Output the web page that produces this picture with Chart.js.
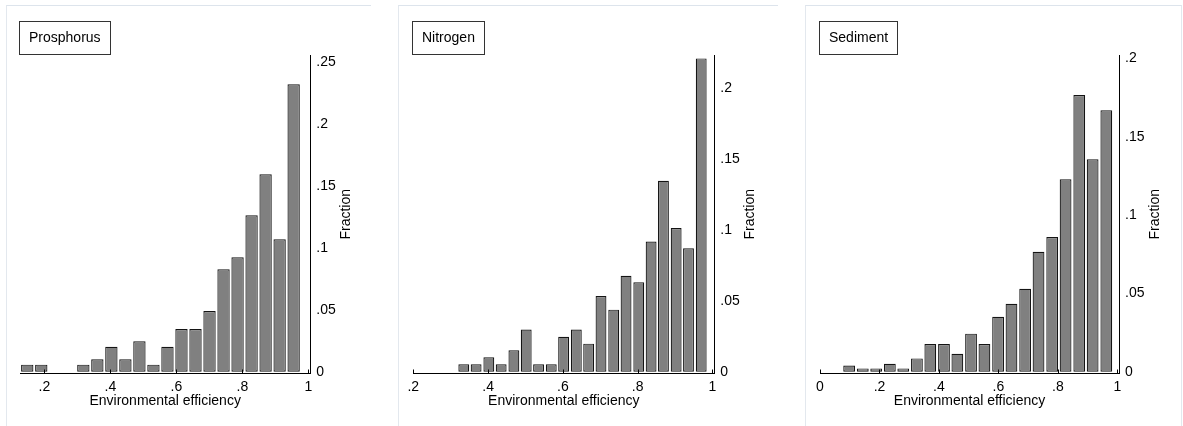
<!DOCTYPE html>
<html>
<head>
<meta charset="utf-8">
<script src="https://cdn.jsdelivr.net/npm/chart.js@4/dist/chart.umd.min.js"></script>
<style>
  html, body { margin: 0; padding: 0; background: #fff; }
  body { width: 1183px; height: 426px; position: relative; overflow: hidden; }
  .panel { position: absolute; top: 5px; height: 430px; border-top: 1px solid #dde4ec; border-left: 1px solid #e3e8ee; }
  canvas { position: absolute; top: 0; }
</style>
</head>
<body>
<div class="panel" style="left:6px;width:364px"></div>
<div class="panel" style="left:398px;width:379px"></div>
<div class="panel" style="left:805px;width:375px;border-right:1px solid #e3e8ee"></div>
<canvas id="phos" width="364" height="426" style="left:6px"></canvas>
<canvas id="nitro" width="379" height="426" style="left:398px"></canvas>
<canvas id="sed" width="376" height="426" style="left:805px"></canvas>
<script>
var phosBins = [0.148, 0.1905, 0.233, 0.2755, 0.318, 0.3605, 0.403, 0.4455, 0.488, 0.5305,
                0.573, 0.6155, 0.658, 0.7005, 0.743, 0.7855, 0.828, 0.8705, 0.913, 0.9555];
var phosFrac = [0.0057, 0.0057, null, null, 0.0057, 0.0101, 0.0202, 0.0101, 0.0245, 0.0057,
                0.0202, 0.0345, 0.0345, 0.0490, 0.0827, 0.0924, 0.1263, 0.1594, 0.1070, 0.2321];

var nitroBins = [0.335, 0.368, 0.402, 0.435, 0.469, 0.502, 0.535, 0.569, 0.602, 0.636,
                 0.669, 0.702, 0.736, 0.769, 0.803, 0.836, 0.869, 0.903, 0.936, 0.970];
var nitroFrac = [0.0052, 0.0052, 0.0101, 0.0052, 0.0151, 0.0297, 0.0052, 0.0052, 0.0247, 0.0297,
                 0.0198, 0.0534, 0.0438, 0.0678, 0.0631, 0.0920, 0.1349, 0.1015, 0.0871, 0.2213];

var sedBins = [0.098, 0.144, 0.189, 0.235, 0.280, 0.326, 0.371, 0.417, 0.462, 0.508,
               0.553, 0.599, 0.644, 0.690, 0.735, 0.781, 0.826, 0.872, 0.917, 0.963];
var sedFrac = [0.0040, 0.0021, 0.0021, 0.0051, 0.0021, 0.0085, 0.0177, 0.0177, 0.0115, 0.0243,
               0.0177, 0.0351, 0.0434, 0.0530, 0.0766, 0.0860, 0.1229, 0.1766, 0.1356, 0.1669];

var phosXTicks = [0.2, 0.4, 0.6, 0.8, 1];
var nitroXTicks = [0.2, 0.4, 0.6, 0.8, 1];
var sedXTicks = [0, 0.2, 0.4, 0.6, 0.8, 1];
var phosYTicks = [0, 0.05, 0.1, 0.15, 0.2, 0.25];
var nitroYTicks = [0, 0.05, 0.1, 0.15, 0.2];
var sedYTicks = [0, 0.05, 0.1, 0.15, 0.2];

var FONT = '"Liberation Sans", Arial, sans-serif';
Chart.defaults.font.family = FONT;
Chart.defaults.font.size = 14;
Chart.defaults.color = '#000';

// stata style labels: .2 instead of 0.2
function stataNum(v) {
    if (v === 0) return '0';
    return String(+v.toFixed(2)).replace(/^0\./, '.');
}

function panelDecor(label) {
    return {
        id: 'panelDecor',
        afterDraw: function (chart) {
            var ctx = chart.ctx;
            var area = chart.chartArea;
            var xs = chart.scales.x;
            ctx.save();
            // short inward ticks on the x axis
            ctx.strokeStyle = '#000';
            ctx.lineWidth = 1;
            xs.ticks.forEach(function (t) {
                var px = Math.round(xs.getPixelForValue(t.value)) + 0.5;
                ctx.beginPath();
                ctx.moveTo(px, area.bottom);
                ctx.lineTo(px, area.bottom - 4);
                ctx.stroke();
            });
            ctx.fillStyle = '#000';
            ctx.font = '14px ' + FONT;
            ctx.textAlign = 'center';
            ctx.textBaseline = 'middle';
            ctx.fillText('Environmental efficiency', (area.left + area.right) / 2, area.bottom + 28);
            ctx.save();
            ctx.translate(area.right + 36, (area.top + area.bottom) / 2);
            ctx.rotate(-Math.PI / 2);
            ctx.fillText('Fraction', 0, 0);
            ctx.restore();
            // boxed panel label
            var w = ctx.measureText(label).width;
            var bx = Math.round(area.left - 1) + 0.5;
            ctx.strokeStyle = '#333';
            ctx.strokeRect(bx, 21.5, Math.round(w + 19), 33);
            ctx.textAlign = 'left';
            ctx.fillText(label, bx + 9.5, 38);
            ctx.restore();
        }
    };
}

function makeHist(id, label, bins, fracs, xTicks, yTicks, xr, yr, padLeft, yWidth) {
    var points = [];
    for (var i = 0; i < bins.length; i++) {
        points.push({ x: bins[i], y: fracs[i] });
    }
    return new Chart(document.getElementById(id), {
        type: 'bar',
        data: {
            datasets: [{
                data: points,
                backgroundColor: '#808080',
                borderColor: '#141414',
                borderWidth: 1.2,
                borderSkipped: false,
                barPercentage: 0.88,
                categoryPercentage: 1
            }]
        },
        options: {
            responsive: false,
            animation: false,
            layout: { padding: { left: padLeft, top: 55, right: 0, bottom: 0 } },
            plugins: { legend: { display: false }, tooltip: { enabled: false } },
            scales: {
                x: {
                    type: 'linear',
                    offset: false,
                    min: xr[0],
                    max: xr[1],
                    grid: { display: false, drawTicks: false, offset: false },
                    border: { display: true, color: '#000', width: 1 },
                    ticks: { padding: 5, callback: stataNum, maxRotation: 0 },
                    afterBuildTicks: function (s) { s.ticks = xTicks.map(function (v) { return { value: v }; }); },
                    afterFit: function (s) { s.height = 52.5; }
                },
                y: {
                    position: 'right',
                    min: yr[0],
                    max: yr[1],
                    grid: { display: false, drawTicks: false },
                    border: { display: true, color: '#000', width: 1 },
                    ticks: { padding: 6, callback: stataNum },
                    afterBuildTicks: function (s) { s.ticks = yTicks.map(function (v) { return { value: v }; }); },
                    afterFit: function (s) { s.width = yWidth; }
                }
            }
        },
        plugins: [panelDecor(label)]
    });
}

makeHist('phos', 'Prosphorus', phosBins, phosFrac, phosXTicks, phosYTicks,
    [0.126, 1.006], [-0.00145, 0.2558], 14, 59.7);
makeHist('nitro', 'Nitrogen', nitroBins, nitroFrac, nitroXTicks, nitroYTicks,
    [0.2, 1.005], [-0.0013, 0.2237], 15.3, 62.7);
makeHist('sed', 'Sediment', sedBins, sedFrac, sedXTicks, sedYTicks,
    [0, 1.006], [-0.00115, 0.2022], 15, 61.9);
</script>
</body>
</html>
